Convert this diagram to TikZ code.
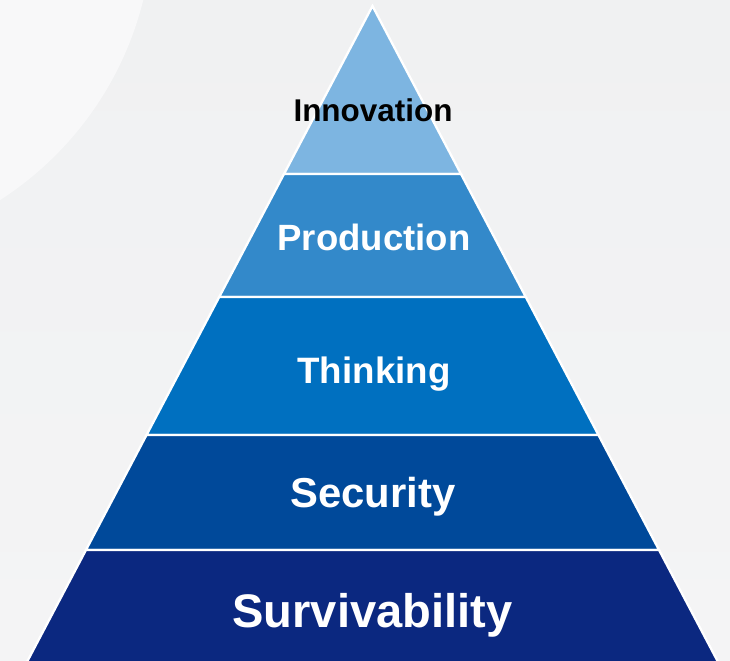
\documentclass[tikz,border=0pt]{standalone}
\usepackage{fontspec}
\setmainfont{Liberation Sans}
\definecolor{bgGray}{HTML}{F0F1F2}
\definecolor{bgLow}{HTML}{F4F4F5}
\definecolor{bgLight}{HTML}{F8F8F9}
\definecolor{lvInnov}{HTML}{7DB5E1}
\definecolor{lvProd}{HTML}{3389CA}
\definecolor{lvThink}{HTML}{0070C0}
\definecolor{lvSecur}{HTML}{00499A}
\definecolor{lvSurv}{HTML}{0B2880}
\tikzset{
  layer/.style={draw=white,line width=1.3pt,line join=miter},
  lbl/.style={anchor=base,font=\bfseries,text=white,inner sep=0pt}
}

\begin{document}
\begin{tikzpicture}[x=0.02cm,y=-0.02cm]
% pixel grid, y runs downwards
\def\apx{372.5}\def\apy{6}\def\sl{0.52672}% half width per unit of height
% ---- background ----
\shade[top color=bgGray,bottom color=bgLow] (0,0) rectangle (730,661);
\clip (0,0) rectangle (730,661);
\fill[bgLight] (-180,-80) circle (6.66cm);
% ---- layers, top to bottom ----
\foreach \yt/\yb/\col in {6/174/lvInnov,174/297/lvProd,297/435/lvThink,435/550/lvSecur,550/672/lvSurv}{
  \filldraw[layer,fill=\col]
    ({\apx-\sl*(\yt-\apy)},\yt) -- ({\apx+\sl*(\yt-\apy)},\yt)
    -- ({\apx+\sl*(\yb-\apy)},\yb) -- ({\apx-\sl*(\yb-\apy)},\yb) -- cycle;
}
% ---- labels ----
\node[lbl,text=black,font=\bfseries\fontsize{17.9}{20}\selectfont] (innov) at (373,122) {Innovation};
\node[lbl,font=\bfseries\fontsize{20.8}{24}\selectfont] (prod) at (374,251) {Production};
\node[lbl,font=\bfseries\fontsize{20.9}{24}\selectfont] (think) at (374,384) {Thinking};
\node[lbl,font=\bfseries\fontsize{23.8}{28}\selectfont] (secur) at (373,508) {Security};
\node[lbl,font=\bfseries\fontsize{26.8}{32}\selectfont] (surv) at (372.5,627) {Survivability};
\end{tikzpicture}
\end{document}
